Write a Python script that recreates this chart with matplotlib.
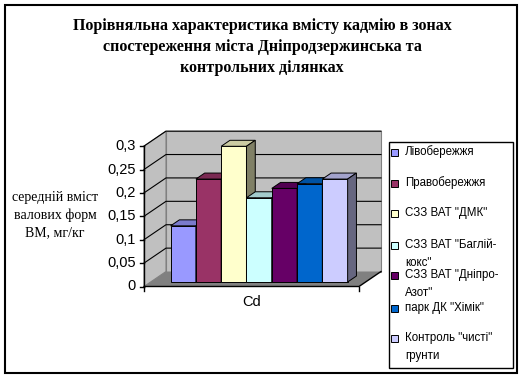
import matplotlib
matplotlib.use('Agg')
import matplotlib.pyplot as plt
from matplotlib.patches import Polygon, Rectangle
import numpy as np

# data
categories = ['Лівобережжя', 'Правобережжя', 'СЗЗ ВАТ "ДМК"', 'СЗЗ ВАТ "Баглій-\nкокс"',
              'СЗЗ ВАТ "Дніпро-\nАзот"', 'парк ДК "Хімік"', 'Контроль "чисті"\nгрунти']
values = [0.12, 0.22, 0.29, 0.18, 0.20, 0.21, 0.22]
colors = ['#9999FF', '#993366', '#FFFFCC', '#CCFFFF', '#660066', '#0066CC', '#CCCCFF']
yticks = [0, 0.05, 0.1, 0.15, 0.2, 0.25, 0.3]
ytick_labels = ['0', '0,05', '0,1', '0,15', '0,2', '0,25', '0,3']
title = 'Порівняльна характеристика вмісту кадмію в зонах\nспостереження міста Дніпродзержинська та\nконтрольних ділянках'
ylabel = 'середній вміст\nвалових форм\nВМ, мг/кг'

W, H = 524, 380
fig = plt.figure(figsize=(W / 100, H / 100), dpi=100)

# 3d-ish geometry (x in bar-width units, y in data units)
DX, DY = 0.87, 0.032     # depth offset of the back wall
FRONT_W = 8.5            # width of front plane
BAR0 = 0.79              # left edge of first bar
BD0, BD = 0.3, 0.4       # bar front depth, bar depth
YMAX = 0.3

px0, px1 = 144, 381
py0 = 286.5
scale = 468.0
ytop = YMAX + DY
ax = fig.add_axes([px0 / W, (H - py0) / H, (px1 - px0) / W, ytop * scale / H])
ax.set_xlim(0, FRONT_W + DX)
ax.set_ylim(0, ytop)
ax.axis('off')

wall = '#C0C0C0'
# back wall
ax.add_patch(Polygon([(DX, DY), (FRONT_W + DX, DY), (FRONT_W + DX, YMAX + DY), (DX, YMAX + DY)],
                     closed=True, fc=wall, ec='#808080', lw=0.8, clip_on=False))
# side wall
ax.add_patch(Polygon([(0, 0), (DX, DY), (DX, YMAX + DY), (0, YMAX)],
                     closed=True, fc=wall, ec='#808080', lw=0.8, clip_on=False))
# gridlines
for v in yticks[1:]:
    ax.plot([0, DX, FRONT_W + DX], [v, v + DY, v + DY], color='black', lw=0.8, clip_on=False)
# floor
ax.add_patch(Polygon([(0, 0), (FRONT_W, 0), (FRONT_W + DX, DY), (DX, DY)],
                     closed=True, fc='#808080', ec='none', clip_on=False))
ax.plot([0, FRONT_W, FRONT_W + DX], [0, 0, DY], color='black', lw=1, clip_on=False)

# bars
xs = BAR0 + BD0 * DX + np.arange(len(values))
base = BD0 * DY
for x, v, c in zip(xs, values, colors):
    rgb = np.array(matplotlib.colors.to_rgb(c))
    ax.bar(x, v, width=1, bottom=base, align='edge', color=c, edgecolor='black', lw=0.7,
           clip_on=False, zorder=3)
    top = base + v
    ax.add_patch(Polygon([(x, top), (x + 1, top), (x + 1 + BD * DX, top + BD * DY), (x + BD * DX, top + BD * DY)],
                         closed=True, fc=rgb * 0.8, ec='black', lw=0.7, clip_on=False, zorder=3))
    ax.add_patch(Polygon([(x + 1, base), (x + 1, top), (x + 1 + BD * DX, top + BD * DY), (x + 1 + BD * DX, base + BD * DY)],
                         closed=True, fc=rgb * 0.5, ec='black', lw=0.7, clip_on=False, zorder=3))

# axes lines and ticks
ax.plot([0, 0], [0, YMAX], color='black', lw=1, clip_on=False)
tl = 4 / 25.3
for v, lab in zip(yticks, ytick_labels):
    ax.plot([-tl, 0], [v, v], color='black', lw=1, clip_on=False)
    ax.text(-0.32, v, lab, ha='right', va='center', fontsize=10.5, family='Liberation Sans')
for x in [0, FRONT_W]:
    ax.plot([x, x], [0, -4 / scale], color='black', lw=1, clip_on=False)
ax.text(FRONT_W / 2, -0.033, 'Cd', ha='center', va='center', fontsize=10.5, family='Liberation Sans')

# overlay in pixel coordinates
ov = fig.add_axes([0, 0, 1, 1], zorder=-1)
ov.set_xlim(0, W)
ov.set_ylim(H, 0)
ov.axis('off')
ov.add_patch(Rectangle((5, 5), 512, 368, fill=False, ec='black', lw=1.5))
ov.text(262, 47, title, ha='center', va='center', fontsize=11.5, weight='bold',
        family='Liberation Serif', linespacing=1.45)
ov.text(55, 215, ylabel, ha='center', va='center', fontsize=10, family='Liberation Serif',
        linespacing=1.45)

# legend
lg = fig.add_axes([0, 0, 1, 1])
lg.set_xlim(0, W)
lg.set_ylim(H, 0)
lg.axis('off')
lg.add_patch(Rectangle((389, 142), 124, 226, fill=False, ec='black', lw=1))
entry_y = [152, 183, 213, 245, 275, 308, 338]
for y, lab, c in zip(entry_y, categories, colors):
    lg.add_patch(Rectangle((391, y - 3.5), 7, 7, fc=c, ec='black', lw=0.7))
    for k, line in enumerate(lab.split('\n')):
        lg.text(405, y + k * 18, line, ha='left', va='center', fontsize=8.3, family='Liberation Sans')

fig.savefig('out.png', dpi=100)
